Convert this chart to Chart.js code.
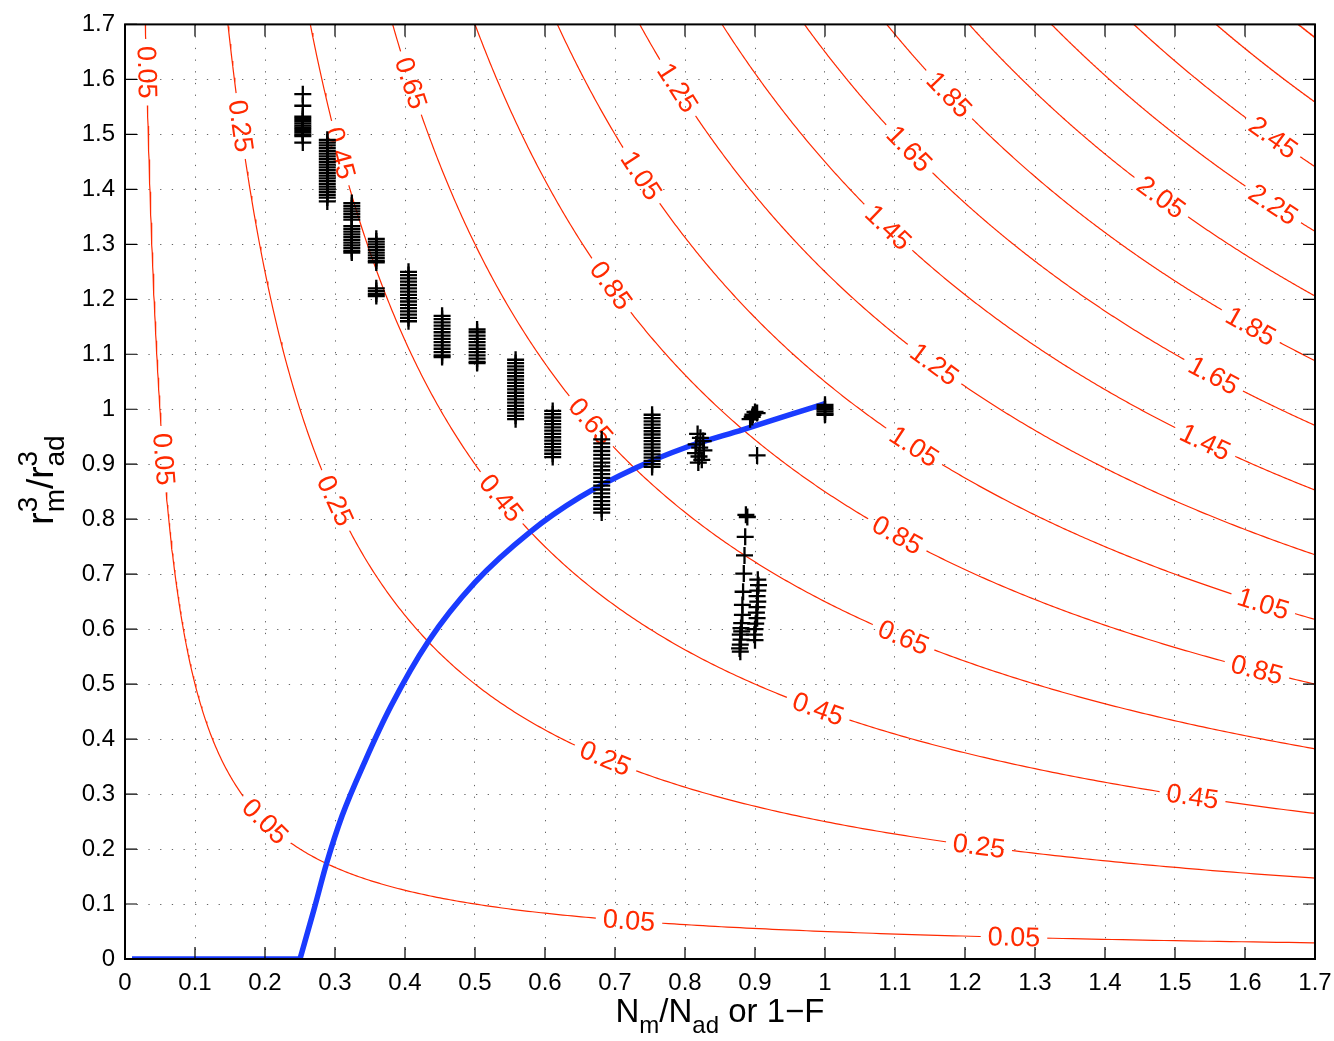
<!DOCTYPE html>
<html>
<head>
<meta charset="utf-8">
<script src="https://cdn.jsdelivr.net/npm/chart.js@4.4.1/dist/chart.umd.min.js"></script>
<style>
  html, body { margin: 0; padding: 0; background: #fff; }
  canvas { display: block; }
</style>
</head>
<body>
<canvas id="chart" width="1334" height="1041"></canvas>
<script>
// iso-lines of (N_m/N_ad) * (r_m^3/r_ad^3)
const levels = [0.05, 0.25, 0.45, 0.65, 0.85, 1.05, 1.25, 1.45, 1.65, 1.85, 2.05, 2.25, 2.45, 2.65, 2.85];
// x positions of the inline labels on each iso-line
const labelAt = [
  [0.031, 0.055, 0.2, 0.72, 1.27],
  [0.165, 0.30, 0.686, 1.22],
  [0.307, 0.537, 0.99, 1.525],
  [0.408, 0.665, 1.112],
  [0.694, 1.103, 1.617],
  [0.737, 1.127, 1.626],
  [0.789, 1.156],
  [1.09, 1.543],
  [1.12, 1.555],
  [1.177, 1.608],
  [1.48],
  [1.64],
  [1.64],
  [],
  []
];

// mixing curve (flat at zero up to 0.25, then rising to 1)
const curveX = [0.01, 0.25, 0.27, 0.288, 0.31, 0.343, 0.38, 0.433, 0.5, 0.579, 0.65, 0.731, 0.8, 0.883, 0.95, 1.0];
const curveY = [0, 0, 0.09, 0.174, 0.26, 0.36, 0.46, 0.577, 0.685, 0.777, 0.84, 0.894, 0.93, 0.963, 0.99, 1.01];

// measurements stacked in columns of equal N_m/N_ad
const colX = [0.254, 0.289, 0.324, 0.359, 0.405, 0.453, 0.503, 0.558, 0.611, 0.681, 0.753, 1.0];
const colY = [
  [1.573, 1.552, 1.532, 1.528, 1.524, 1.52, 1.516, 1.512, 1.508, 1.504, 1.5, 1.497, 1.485],
  [1.49, 1.485, 1.48, 1.475, 1.47, 1.465, 1.46, 1.455, 1.45, 1.445, 1.44, 1.435, 1.43, 1.425, 1.42, 1.415, 1.41, 1.405, 1.4, 1.395, 1.39, 1.385, 1.378],
  [1.375, 1.37, 1.365, 1.36, 1.355, 1.35, 1.345, 1.333, 1.328, 1.323, 1.318, 1.313, 1.308, 1.303, 1.298, 1.293, 1.288, 1.285],
  [1.31, 1.305, 1.3, 1.295, 1.29, 1.285, 1.28, 1.275, 1.27, 1.267, 1.22, 1.215, 1.21, 1.206],
  [1.25, 1.244, 1.238, 1.232, 1.226, 1.22, 1.214, 1.208, 1.202, 1.196, 1.19, 1.184, 1.178, 1.172, 1.166, 1.16],
  [1.17, 1.164, 1.158, 1.152, 1.146, 1.14, 1.134, 1.128, 1.122, 1.116, 1.11, 1.104, 1.098, 1.095],
  [1.145, 1.14, 1.134, 1.128, 1.122, 1.116, 1.11, 1.104, 1.098, 1.092, 1.086, 1.084],
  [1.09, 1.084, 1.078, 1.072, 1.066, 1.06, 1.054, 1.048, 1.042, 1.036, 1.03, 1.024, 1.018, 1.012, 1.006, 1.0, 0.994, 0.988, 0.982],
  [0.997, 0.991, 0.985, 0.979, 0.973, 0.967, 0.961, 0.955, 0.949, 0.943, 0.937, 0.931, 0.925, 0.919, 0.913],
  [0.945, 0.938, 0.931, 0.924, 0.917, 0.91, 0.903, 0.896, 0.889, 0.882, 0.875, 0.868, 0.861, 0.854, 0.847, 0.84, 0.833, 0.826, 0.819, 0.812],
  [0.99, 0.984, 0.978, 0.972, 0.966, 0.96, 0.954, 0.948, 0.942, 0.936, 0.93, 0.924, 0.918, 0.912, 0.906, 0.9, 0.895],
  [1.008, 1.004, 1.0, 0.996, 0.992, 0.99]
];
// scattered measurements
const looseX = [
  0.818, 0.822, 0.826, 0.816, 0.821, 0.827, 0.815, 0.82, 0.824, 0.819,
  0.893, 0.897, 0.9, 0.903, 0.896, 0.903,
  0.887, 0.889, 0.886, 0.885, 0.884, 0.883, 0.882, 0.882, 0.881, 0.88, 0.881, 0.879, 0.88, 0.879, 0.878, 0.879,
  0.904, 0.905, 0.904, 0.903, 0.904, 0.903, 0.902, 0.903, 0.901, 0.9, 0.899, 0.9
];
const looseY = [
  0.955, 0.948, 0.942, 0.936, 0.93, 0.925, 0.92, 0.914, 0.908, 0.903,
  0.982, 0.99, 0.995, 0.993, 0.986, 0.916,
  0.808, 0.804, 0.768, 0.734, 0.701, 0.668, 0.644, 0.626, 0.611, 0.602, 0.596, 0.59, 0.581, 0.572, 0.565, 0.559,
  0.69, 0.68, 0.67, 0.66, 0.65, 0.64, 0.63, 0.62, 0.61, 0.6, 0.59, 0.58
];

const FONT = "'Liberation Sans', Arial, Helvetica, sans-serif";
const RED = '#ff2a00';
const BLUE = '#1a3bff';
const LABEL_FONT = '27px ' + FONT;

function isoLine(level) {
  const pts = [];
  const x0 = level / 1.75, x1 = 1.75, n = 400;
  for (let i = 0; i <= n; i++) {
    const x = x0 * Math.pow(x1 / x0, i / n);
    pts.push({ x, y: level / x });
  }
  return pts;
}

const measured = [];
colX.forEach((x, i) => colY[i].forEach(y => measured.push({ x, y })));
looseX.forEach((x, i) => measured.push({ x, y: looseY[i] }));

const datasets = levels.map((lv, i) => ({
  level: lv,
  labels: labelAt[i],
  data: isoLine(lv),
  showLine: true,
  borderColor: RED,
  borderWidth: 1.2,
  pointRadius: 0,
  order: 3
}));
datasets.push({
  data: curveX.slice(0, 2).map((x, i) => ({ x, y: curveY[i] })),
  showLine: true, borderColor: BLUE, borderWidth: 5.5, pointRadius: 0, order: 2
});
datasets.push({
  data: curveX.slice(1).map((x, i) => ({ x, y: curveY[i + 1] })),
  showLine: true, borderColor: BLUE, borderWidth: 5.5, pointRadius: 0,
  cubicInterpolationMode: 'monotone', order: 2
});
datasets.push({
  data: measured,
  showLine: false,
  pointStyle: 'cross',
  pointRadius: 8.5,
  pointBorderWidth: 2.3,
  pointBorderColor: '#000',
  borderColor: '#000',
  order: 1
});

/** label boxes for one iso-line, in canvas pixels */
function labelBoxes(chart, ds) {
  const sx = chart.scales.x, sy = chart.scales.y, ctx = chart.ctx;
  ctx.save();
  ctx.font = LABEL_FONT;
  const boxes = ds.labels.map(x => {
    const text = ds.level.toFixed(2);
    const d = 0.003 * x;
    const ax = sx.getPixelForValue(x - d), ay = sy.getPixelForValue(ds.level / (x - d));
    const bx = sx.getPixelForValue(x + d), by = sy.getPixelForValue(ds.level / (x + d));
    return {
      text,
      px: sx.getPixelForValue(x),
      py: sy.getPixelForValue(ds.level / x),
      angle: Math.atan2(by - ay, bx - ax),
      w: ctx.measureText(text).width
    };
  });
  ctx.restore();
  return boxes;
}

const isoLabels = {
  id: 'isoLabels',
  beforeDatasetDraw(chart, args) {
    const ds = chart.data.datasets[args.index];
    if (ds.level === undefined) return;
    const ctx = chart.ctx;
    ds._boxes = labelBoxes(chart, ds);
    ctx.save();
    ctx.beginPath();
    ctx.rect(0, 0, chart.width, chart.height);
    ds._boxes.forEach(b => {
      const hw = b.w / 2 + 7, hh = 12;
      const c = Math.cos(b.angle), s = Math.sin(b.angle);
      const pts = [[-hw, -hh], [hw, -hh], [hw, hh], [-hw, hh]].map(([u, v]) => [b.px + u * c - v * s, b.py + u * s + v * c]);
      ctx.moveTo(pts[0][0], pts[0][1]);
      for (let k = 1; k < 4; k++) ctx.lineTo(pts[k][0], pts[k][1]);
      ctx.closePath();
    });
    ctx.clip('evenodd');
  },
  afterDatasetDraw(chart, args) {
    const ds = chart.data.datasets[args.index];
    if (ds.level === undefined) return;
    const ctx = chart.ctx;
    ctx.restore();
    ctx.save();
    ctx.font = LABEL_FONT;
    ctx.fillStyle = RED;
    ctx.textAlign = 'center';
    ctx.textBaseline = 'middle';
    ds._boxes.forEach(b => {
      ctx.save();
      ctx.translate(b.px, b.py);
      ctx.rotate(b.angle);
      ctx.fillText(b.text, 0, 1);
      ctx.restore();
    });
    ctx.restore();
  }
};

/** MATLAB style box with inward ticks, plus axis titles with sub/superscripts */
const frame = {
  id: 'frame',
  afterDraw(chart) {
    const ctx = chart.ctx;
    const { left, right, top, bottom } = chart.chartArea;
    const sx = chart.scales.x, sy = chart.scales.y;
    ctx.save();
    ctx.strokeStyle = '#000';
    ctx.lineWidth = 1.2;
    ctx.beginPath();
    sx.ticks.forEach(t => {
      const p = sx.getPixelForValue(t.value);
      ctx.moveTo(p, bottom); ctx.lineTo(p, bottom - 12);
      ctx.moveTo(p, top); ctx.lineTo(p, top + 12);
    });
    sy.ticks.forEach(t => {
      const p = sy.getPixelForValue(t.value);
      ctx.moveTo(left, p); ctx.lineTo(left + 12, p);
      ctx.moveTo(right, p); ctx.lineTo(right - 12, p);
    });
    ctx.stroke();
    ctx.lineWidth = 2;
    ctx.strokeRect(left, top, right - left, bottom - top);

    // x title: N_m/N_ad or 1−F
    const big = '33px ' + FONT, small = '24px ' + FONT;
    const xParts = [
      ['N', big, 0], ['m', small, 11], ['/N', big, 0], ['ad', small, 11], [' or 1\u2212F', big, 0]
    ];
    ctx.fillStyle = '#000';
    ctx.textBaseline = 'alphabetic';
    ctx.textAlign = 'left';
    let total = 0;
    xParts.forEach(p => { ctx.font = p[1]; p.push(ctx.measureText(p[0]).width); total += p[3]; });
    let cx = (left + right) / 2 - total / 2;
    xParts.forEach(p => { ctx.font = p[1]; ctx.fillText(p[0], cx, 1022 + p[2]); cx += p[3]; });

    // y title: r^3_m / r^3_ad, rotated
    const yBig = '37px ' + FONT, ySmall = '28px ' + FONT;
    ctx.save();
    ctx.translate(53, 480);
    ctx.rotate(-Math.PI / 2);
    const yParts = [['r', null], ['3', 'm'], ['/r', null], ['3', 'ad']];
    let w = 0;
    const widths = yParts.map(p => {
      if (p[1] === null) { ctx.font = yBig; return ctx.measureText(p[0]).width; }
      ctx.font = ySmall;
      return Math.max(ctx.measureText(p[0]).width, ctx.measureText(p[1]).width);
    });
    widths.forEach(v => { w += v; });
    let cy = -w / 2;
    yParts.forEach((p, i) => {
      if (p[1] === null) { ctx.font = yBig; ctx.fillText(p[0], cy, 0); }
      else {
        ctx.font = ySmall;
        ctx.fillText(p[0], cy, -16);
        ctx.fillText(p[1], cy, 11);
      }
      cy += widths[i];
    });
    ctx.restore();
    ctx.restore();
  }
};

const tickFont = { family: FONT, size: 24 };
const tickText = v => String(Math.round(v * 10) / 10);
const gridOpts = { color: 'rgba(0,0,0,0.6)', lineWidth: 1, drawTicks: false };
const borderOpts = { display: false, dash: [1.3, 10.4] };

new Chart(document.getElementById('chart'), {
  type: 'scatter',
  data: { datasets },
  plugins: [isoLabels, frame],
  options: {
    responsive: false,
    animation: false,
    events: [],
    layout: { padding: { top: 20, right: 19, left: 0, bottom: 0 } },
    plugins: { legend: { display: false }, tooltip: { enabled: false } },
    scales: {
      x: {
        type: 'linear', min: 0, max: 1.7,
        grid: gridOpts, border: borderOpts,
        ticks: { stepSize: 0.1, autoSkip: false, maxRotation: 0, padding: 10, color: '#000', font: tickFont, callback: tickText },
        afterFit(scale) { scale.height = 82; scale.paddingRight = 0; scale.paddingLeft = 0; }
      },
      y: {
        type: 'linear', min: 0, max: 1.7,
        grid: gridOpts, border: borderOpts,
        ticks: { stepSize: 0.1, autoSkip: false, padding: 10, color: '#000', font: tickFont, callback: tickText },
        afterFit(scale) { scale.width = 125; }
      }
    }
  }
});
</script>
</body>
</html>
